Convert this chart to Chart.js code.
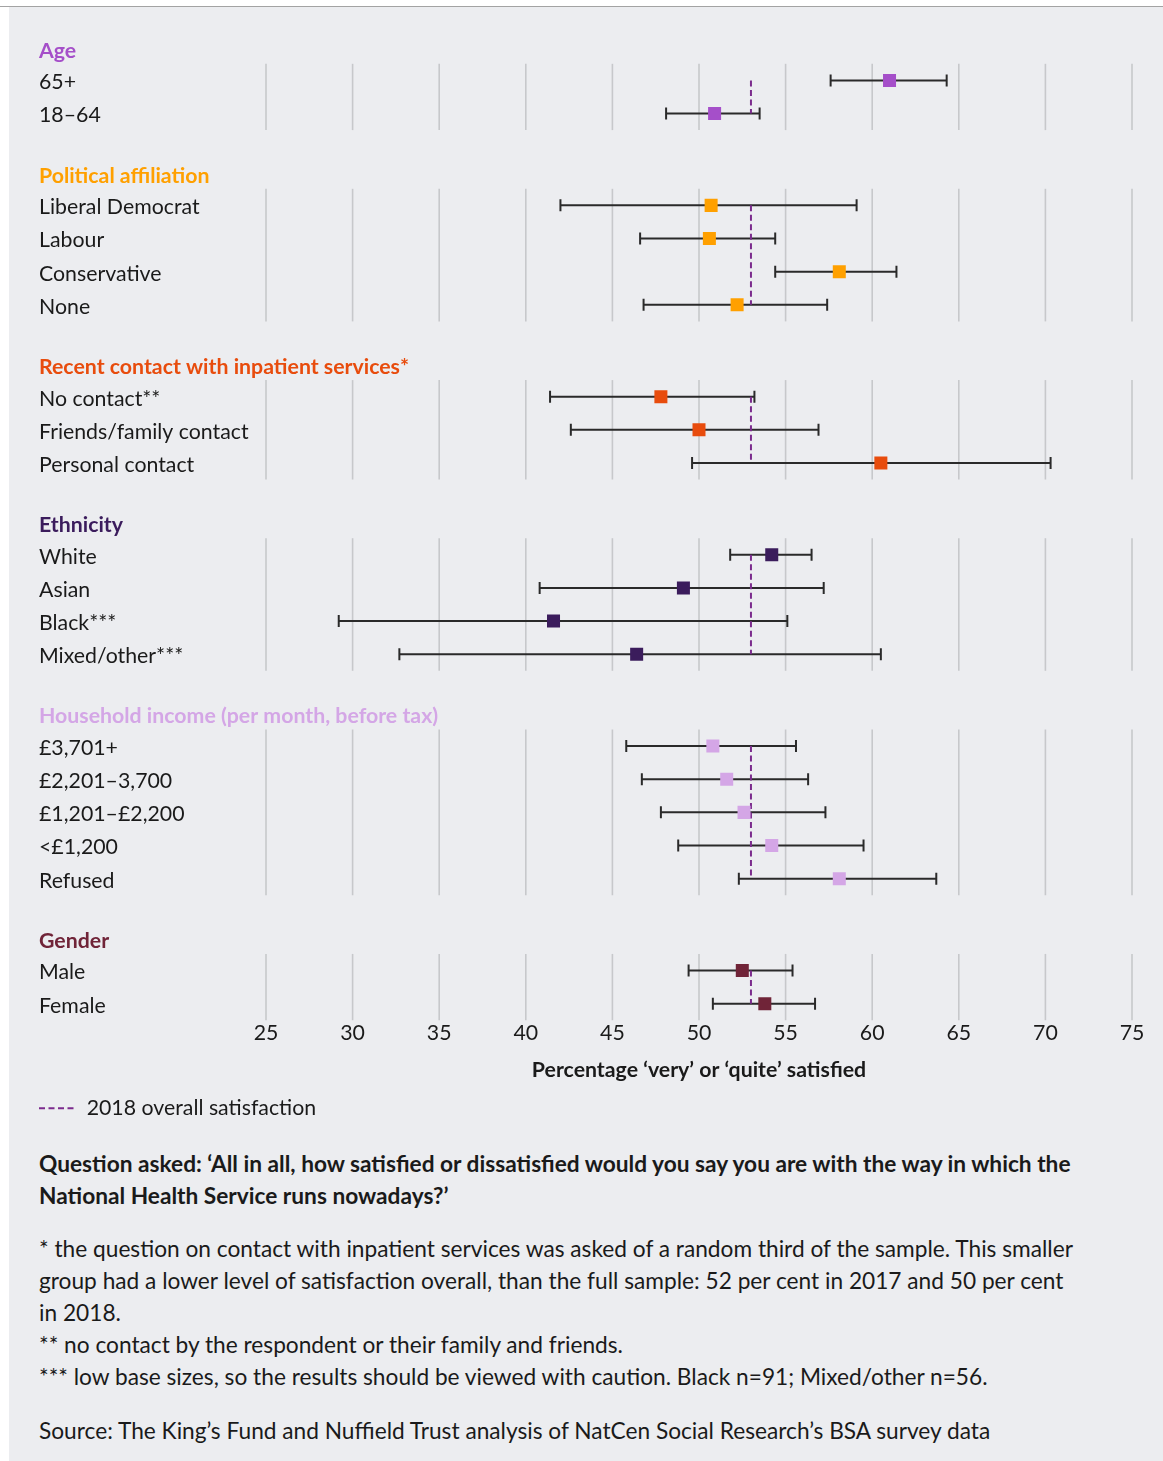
<!DOCTYPE html>
<html>
<head>
<meta charset="utf-8">
<script src="https://cdn.jsdelivr.net/npm/chart.js@4.4.1/dist/chart.umd.min.js"></script>
<style>
  body { margin: 0; background: #fff; font-family: Lato, sans-serif; color: #1a1a1a; }
  #topline { position: absolute; left: 0; top: 6px; width: 1163px; height: 1px; background: #a3a3a3; }
  #panel { position: absolute; left: 9px; top: 7px; width: 1154px; height: 1454px; background: #ecedf0; }
  #chart { position: absolute; left: 0; top: 0; }
  #notes { position: absolute; left: 30px; top: 1141px; width: 1042px; font-size: 22.7px; line-height: 32px; }
  #notes p { margin: 0; }
  #notes .q { font-weight: bold; }
  #notes .fn { margin-top: 21px; }
  #notes .src { margin-top: 22px; }
</style>
</head>
<body>
<div id="topline"></div>
<div id="panel">
  <canvas id="chart" width="1154" height="1122"></canvas>
  <div id="notes">
    <p class="q">Question asked: ‘All in all, how satisfied or dissatisfied would you say you are with the way in which the National Health Service runs nowadays?’</p>
    <p class="fn">* the question on contact with inpatient services was asked of a random third of the sample. This smaller group had a lower level of satisfaction overall, than the full sample: 52 per cent in 2017 and 50 per cent in 2018.<br>** no contact by the respondent or their family and friends.<br>*** low base sizes, so the results should be viewed with caution. Black n=91; Mixed/other n=56.</p>
    <p class="src">Source: The King’s Fund and Nuffield Trust analysis of NatCen Social Research’s BSA survey data</p>
  </div>
</div>
<script>
// groups and their rows
const groups = ['Age', 'Political affiliation', 'Recent contact with inpatient services*', 'Ethnicity', 'Household income (per month, before tax)', 'Gender'];
const categories = [
  ['65+', '18–64'],
  ['Liberal Democrat', 'Labour', 'Conservative', 'None'],
  ['No contact**', 'Friends/family contact', 'Personal contact'],
  ['White', 'Asian', 'Black***', 'Mixed/other***'],
  ['£3,701+', '£2,201–3,700', '£1,201–£2,200', '<£1,200', 'Refused'],
  ['Male', 'Female']
];
// % very or quite satisfied, with confidence interval ends
const satisfied = [[61.0, 50.9], [50.7, 50.6, 58.1, 52.2], [47.8, 50.0, 60.5], [54.2, 49.1, 41.6, 46.4], [50.8, 51.6, 52.6, 54.2, 58.1], [52.5, 53.8]];
const lowerCI = [[57.6, 48.1], [42.0, 46.6, 54.4, 46.8], [41.4, 42.6, 49.6], [51.8, 40.8, 29.2, 32.7], [45.8, 46.7, 47.8, 48.8, 52.3], [49.4, 50.8]];
const upperCI = [[64.3, 53.5], [59.1, 54.4, 61.4, 57.4], [53.2, 56.9, 70.3], [56.5, 57.2, 55.1, 60.5], [55.6, 56.3, 57.3, 59.5, 63.7], [55.4, 56.7]];
const overall2018 = 53;

const groupColors = ['#a54fc9', '#ffa000', '#e84c0d', '#3b1c5c', '#d4a6e6', '#702438'];
const FONT = 21.3;

// work out the row positions (in row units) for the y axis
const HEADER_GAP = 0.95;
const GROUP_GAP = 1.82;
const rows = [];
const groupSpans = [];
let pos = 0;
groups.forEach((g, gi) => {
  rows.push({ label: g, header: true, g: gi, pos: pos });
  pos += HEADER_GAP;
  const first = pos;
  categories[gi].forEach((c, ci) => {
    rows.push({ label: c, header: false, g: gi, ci: ci, pos: pos });
    pos += 1;
  });
  groupSpans.push([first, pos - 1]);
  pos += GROUP_GAP - 1;
});

const dataRows = rows.filter(r => !r.header);
const markers = dataRows.map(r => ({ x: satisfied[r.g][r.ci], y: r.pos }));
const markerColors = dataRows.map(r => groupColors[r.g]);
const whiskers = [];
dataRows.forEach(r => {
  whiskers.push({ x: lowerCI[r.g][r.ci], y: r.pos }, { x: upperCI[r.g][r.ci], y: r.pos }, { x: null, y: null });
});
const refLine = [];
groupSpans.forEach(([a, b]) => {
  refLine.push({ x: overall2018, y: a }, { x: overall2018, y: b }, { x: null, y: null });
});

// vertical grid only behind each group's rows
const groupGrid = {
  id: 'groupGrid',
  beforeDatasetsDraw(chart) {
    const { ctx, scales: { x, y } } = chart;
    ctx.save();
    ctx.strokeStyle = '#c7c8cb';
    ctx.lineWidth = 1.6;
    groupSpans.forEach(([a, b]) => {
      const top = y.getPixelForValue(a - 0.5);
      const bottom = y.getPixelForValue(b + 0.5);
      x.ticks.forEach(t => {
        const px = x.getPixelForValue(t.value);
        ctx.beginPath();
        ctx.moveTo(px, top);
        ctx.lineTo(px, bottom);
        ctx.stroke();
      });
    });
    ctx.restore();
  }
};

Chart.defaults.font.family = 'Lato';
Chart.defaults.font.size = FONT;
Chart.defaults.color = '#1a1a1a';

new Chart(document.getElementById('chart'), {
  type: 'scatter',
  data: {
    datasets: [
      {
        label: 'satisfied',
        data: markers,
        pointStyle: 'rect',
        pointRadius: 9.2,
        pointBorderWidth: 0,
        pointBackgroundColor: markerColors,
        showLine: false
      },
      {
        label: '2018 overall satisfaction',
        data: refLine,
        showLine: true,
        borderColor: '#7b2b8d',
        borderWidth: 2,
        borderDash: [6, 3.5],
        pointRadius: 0,
        pointStyle: 'line'
      },
      {
        label: 'ci',
        data: whiskers,
        showLine: true,
        borderColor: '#2a2a2a',
        borderWidth: 2,
        pointStyle: 'line',
        pointRotation: 90,
        pointRadius: 6,
        pointBorderWidth: 2,
        pointBorderColor: '#2a2a2a'
      }
    ]
  },
  options: {
    responsive: false,
    animation: false,
    events: [],
    layout: { padding: { top: 23, left: 30, right: 31, bottom: 0 } },
    plugins: {
      tooltip: { enabled: false },
      legend: {
        position: 'bottom',
        align: 'start',
        labels: {
          padding: 0,
          usePointStyle: true,
          pointStyle: 'line',
          pointStyleWidth: 37,
          color: '#1a1a1a',
          font: { size: FONT },
          generateLabels: chart => {
            const ds = chart.data.datasets[1];
            return Chart.defaults.plugins.legend.labels.generateLabels(chart)
              .filter(item => item.datasetIndex === 1)
              .map(item => Object.assign(item, { lineDash: ds.borderDash, strokeStyle: ds.borderColor, lineWidth: ds.borderWidth }));
          }
        }
      }
    },
    scales: {
      x: {
        type: 'linear',
        min: 25,
        max: 75,
        grid: { display: false, drawTicks: false },
        border: { display: false },
        ticks: { stepSize: 5, padding: 3, color: '#1a1a1a', font: { size: FONT } },
        title: {
          display: true,
          text: 'Percentage ‘very’ or ‘quite’ satisfied',
          color: '#1a1a1a',
          font: { size: FONT, weight: 'bold' },
          padding: { top: 8, bottom: 15 }
        }
      },
      y: {
        type: 'linear',
        reverse: true,
        min: -0.57,
        max: 29.22,
        grid: { display: false, drawTicks: false },
        border: { display: false },
        afterBuildTicks: scale => { scale.ticks = rows.map(r => ({ value: r.pos })); },
        afterFit: scale => { scale.width = 227; },
        ticks: {
          autoSkip: false,
          mirror: true,
          crossAlign: 'near',
          padding: -227,
          labelOffset: 2,
          callback: (value, index) => rows[index].label,
          color: c => rows[c.index] && rows[c.index].header ? groupColors[rows[c.index].g] : '#1a1a1a',
          font: c => ({ size: FONT, weight: rows[c.index] && rows[c.index].header ? 'bold' : 'normal' })
        }
      }
    }
  },
  plugins: [groupGrid]
});
</script>
</body>
</html>
